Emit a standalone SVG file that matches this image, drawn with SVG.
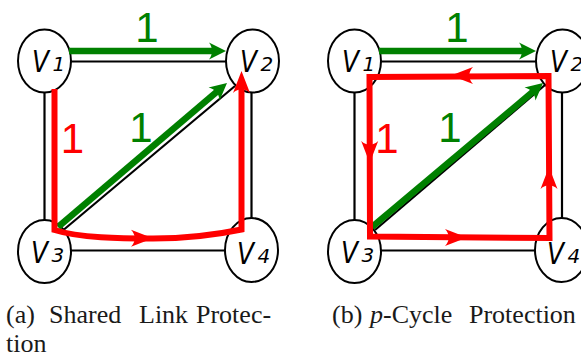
<svg xmlns="http://www.w3.org/2000/svg" width="581" height="357" viewBox="0 0 581 357">
<style>
.node{fill:#fff;stroke:#000;stroke-width:2}
.vl{font-family:'DejaVu Sans',sans-serif;font-style:italic;font-size:30px;fill:#000}
.sub{font-family:'DejaVu Sans',sans-serif;font-style:italic;font-size:20px;fill:#000}
.edge{stroke:#000;stroke-width:2.2;fill:none}
.g{stroke:#008000;stroke-width:6.5;fill:none}
.r{stroke:#ff0000;stroke-width:6;fill:none;stroke-linejoin:miter}
.gf{fill:#008000}
.rf{fill:#ff0000}
.num{font-family:'Liberation Sans',Arimo,Arial,sans-serif;font-size:42px;text-anchor:middle}
.cap{font-family:'Liberation Serif',Tinos,'Times New Roman','DejaVu Serif',serif;font-size:26px;fill:#1a1a1a}
</style>
<defs>
<path id="ag" d="M0,0 L-17,-8.5 C-13,-3 -13,3 -17,8.5 Z"/>
<path id="ar" d="M0,0 L-22,-8.5 C-17,-3 -17,3 -22,8.5 Z"/>
</defs>
<rect width="581" height="357" fill="#fff"/>
<g id="edges">
<line class="edge" x1="70" y1="61.5" x2="226" y2="61.5"/>
<line class="edge" x1="44.5" y1="92" x2="44.5" y2="221"/>
<line class="edge" x1="251.5" y1="92" x2="251.5" y2="219"/>
<line class="edge" x1="70" y1="250.5" x2="225" y2="250.5"/>
<line class="edge" x1="64" y1="229.5" x2="235" y2="86"/>
<line class="edge" x1="380" y1="61.5" x2="536" y2="61.5"/>
<line class="edge" x1="354.5" y1="92" x2="354.5" y2="221"/>
<line class="edge" x1="562" y1="92" x2="562" y2="219"/>
<line class="edge" x1="380" y1="250.5" x2="536" y2="250.5"/>
<line class="edge" x1="375" y1="230" x2="545" y2="85"/>
</g>
<g id="n-a1"><ellipse class="node" cx="44.5" cy="61" rx="26.5" ry="31.5"/><text class="vl" x="32" y="72" textLength="17" lengthAdjust="spacingAndGlyphs">V</text><text class="sub" x="52.5" y="71">1</text></g>
<g id="n-a2"><ellipse class="node" cx="252.5" cy="61" rx="26.5" ry="31.5"/><text class="vl" x="240" y="72" textLength="17" lengthAdjust="spacingAndGlyphs">V</text><text class="sub" x="260.5" y="71">2</text></g>
<g id="n-a3"><ellipse class="node" cx="44.5" cy="251.5" rx="26.5" ry="31.5"/><text class="vl" x="31" y="263" textLength="17" lengthAdjust="spacingAndGlyphs">V</text><text class="sub" x="51.5" y="262">3</text></g>
<g id="n-a4"><ellipse class="node" cx="251.5" cy="250" rx="26.5" ry="32"/><text class="vl" x="237" y="263.5" textLength="17" lengthAdjust="spacingAndGlyphs">V</text><text class="sub" x="257.5" y="262.5">4</text></g>
<g id="n-b1"><ellipse class="node" cx="354.5" cy="61" rx="26.5" ry="31.5"/><text class="vl" x="342" y="72" textLength="17" lengthAdjust="spacingAndGlyphs">V</text><text class="sub" x="362.5" y="71">1</text></g>
<g id="n-b2"><ellipse class="node" cx="562.5" cy="61" rx="26.5" ry="31.5"/><text class="vl" x="550" y="72" textLength="17" lengthAdjust="spacingAndGlyphs">V</text><text class="sub" x="570.5" y="71">2</text></g>
<g id="n-b3"><ellipse class="node" cx="354.5" cy="251.5" rx="26.5" ry="31.5"/><text class="vl" x="341" y="263" textLength="17" lengthAdjust="spacingAndGlyphs">V</text><text class="sub" x="361.5" y="262">3</text></g>
<g id="n-b4"><ellipse class="node" cx="561.5" cy="250" rx="26.5" ry="32"/><text class="vl" x="547" y="263.5" textLength="17" lengthAdjust="spacingAndGlyphs">V</text><text class="sub" x="567.5" y="262.5">4</text></g>
<g id="connectors">
<line class="g" x1="69" y1="51" x2="214" y2="51"/>
<use href="#ag" class="gf" transform="translate(226,51)"/>
<line class="g" x1="58" y1="227" x2="218" y2="90.8"/>
<use href="#ag" class="gf" transform="translate(227,83) rotate(-40.4)"/>
<path class="r" d="M54.5,89 L54.5,230 C80,238 120,238.5 153,238.5 C190,238.5 220,234 241.5,229.5 L241.5,86"/>
<use href="#ar" class="rf" transform="translate(153,238.3)"/>
<use href="#ar" class="rf" transform="translate(241.5,71) rotate(-90)"/>
<line class="g" x1="379" y1="51" x2="524" y2="51"/>
<use href="#ag" class="gf" transform="translate(536,51)"/>
<line class="g" x1="372" y1="227" x2="534" y2="90.8"/>
<use href="#ag" class="gf" transform="translate(543,83) rotate(-40.1)"/>
<polygon class="r" points="369.5,77 548.5,76 549.5,238 370,236.5"/>
<use href="#ar" class="rf" transform="translate(451,75.6) rotate(180)"/>
<use href="#ar" class="rf" transform="translate(369.7,163) rotate(90)"/>
<use href="#ar" class="rf" transform="translate(467,237.6)"/>
<use href="#ar" class="rf" transform="translate(549,167) rotate(-90)"/>
</g>
<g id="labels">
<text class="num" x="147" y="42" fill="#008000">1</text>
<text class="num" x="141" y="142" fill="#008000">1</text>
<text class="num" x="72.5" y="153" fill="#ff0000">1</text>
<text class="num" x="457" y="42" fill="#008000">1</text>
<text class="num" x="450" y="142" fill="#008000">1</text>
<text class="num" x="387" y="153" fill="#ff0000">1</text>
</g>
<g id="captions">
<text class="cap" x="6" y="323">(a)</text>
<text class="cap" x="49" y="323">Shared</text>
<text class="cap" x="139" y="323">Link</text>
<text class="cap" x="196" y="323">Protec-</text>
<text class="cap" x="6" y="352">tion</text>
<text class="cap" x="332" y="323">(b)</text>
<text class="cap" x="370" y="323"><tspan font-style="italic">p</tspan>-Cycle</text>
<text class="cap" x="469" y="323">Protection</text>
</g>
</svg>
